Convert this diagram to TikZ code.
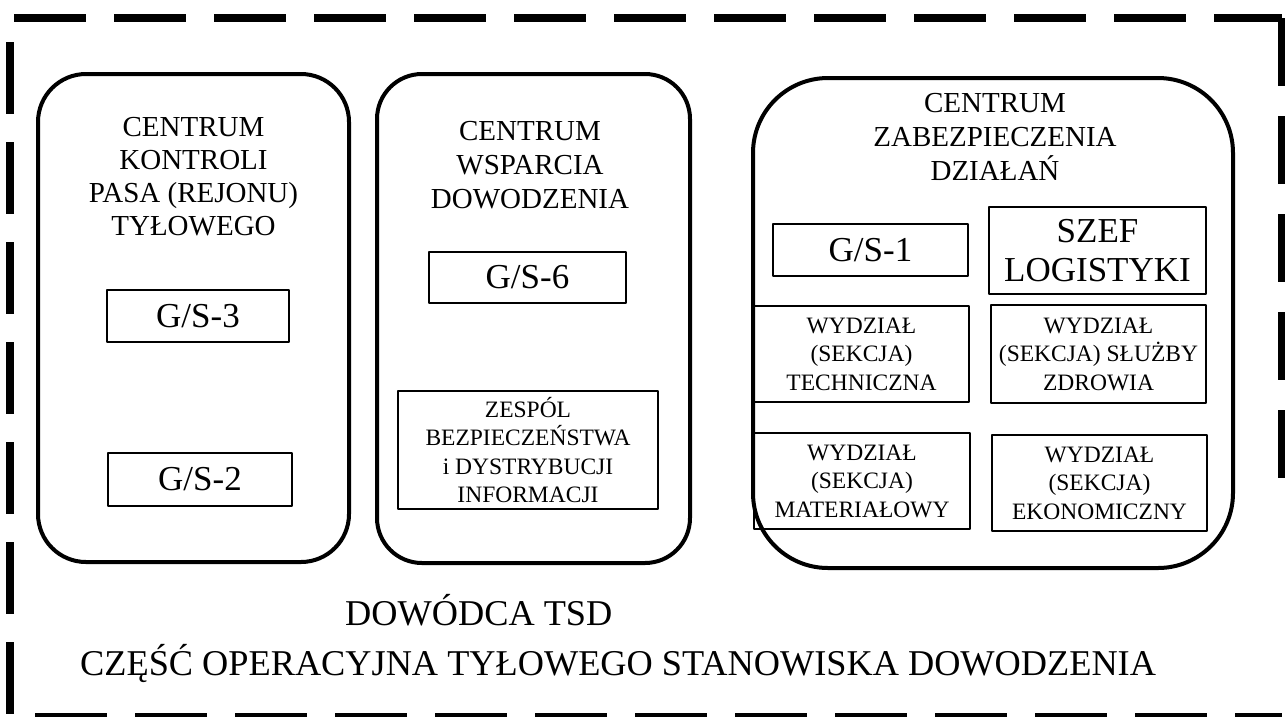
\documentclass[tikz,border=0pt]{standalone}
\usepackage{fontspec}
\setmainfont{Liberation Serif}
\usetikzlibrary{positioning}

\begin{document}
\begin{tikzpicture}[x=1pt, y=-1pt, line join=round,
    centre/.style={draw, line width=4pt, inner sep=0pt},
    header/.style={anchor=north, inner sep=0pt, align=center, font=\fontsize{29}{33}\selectfont},
    cell/.style={draw, line width=1.8pt, inner sep=0pt, align=center},
    gsbox/.style={cell, font=\fontsize{35}{39}\selectfont},
    wbox/.style={cell, font=\fontsize{23.5}{28.5}\selectfont},
    tsdframe/.style={line width=8pt}]
      \useasboundingbox (0,0) rectangle (1285,716);

      % Dashed frame of the command post
      \coordinate (TL) at (10,18);
      \coordinate (TR) at (1282,18);
      \coordinate (BL) at (10,717);
      \coordinate (BR) at (1282,717);
      \draw[tsdframe, dash pattern=on 72pt off 28pt, dash phase=96pt] (TL) -- (TR);
      \draw[tsdframe, dash pattern=on 72pt off 28pt, dash phase=76pt] (TL) -- (BL);
      \draw[tsdframe, dash pattern=on 72pt off 28pt, dash phase=75pt] (BL) -- (BR);
      \draw[tsdframe, dash pattern=on 68pt off 30pt] (TR) -- (1282,505);

      % Centres (rounded boxes)
      \node[centre, rounded corners=48pt, minimum width=311pt, minimum height=488pt] (ckpt) at (193.5,318) {};
      \node[centre, rounded corners=45pt, minimum width=313pt, minimum height=489pt] (cwd) at (533.5,318.5) {};
      \node[centre, rounded corners=75pt, minimum width=480pt, minimum height=490pt] (czd) at (993,323) {};

      \node[header] (ckpt-t) at (193.5,117) {CENTRUM\\KONTROLI\\PASA (REJONU)\\TYŁOWEGO};
      \node[header, font=\fontsize{29}{34}\selectfont] (cwd-t) at (530,121) {CENTRUM\\WSPARCIA\\DOWODZENIA};
      \node[header, font=\fontsize{29}{34}\selectfont] (czd-t) at (995,93) {CENTRUM\\ZABEZPIECZENIA\\DZIAŁAŃ};

      % Cells
      \node[gsbox, minimum width=182pt, minimum height=52pt] (gs3) at (198,316) {G/S-3};
      \node[gsbox, minimum width=184pt, minimum height=53pt] (gs2) at (200,479.5) {G/S-2};
      \node[gsbox, minimum width=197pt, minimum height=51pt] (gs6) at (527.5,277.5) {G/S-6};
      \node[wbox, minimum width=260pt, minimum height=118pt] (zbdi) at (528,450) {ZESPÓL\\BEZPIECZEŃSTWA\\i DYSTRYBUCJI\\INFORMACJI};
      \node[gsbox, minimum width=195pt, minimum height=52pt] (gs1) at (870.5,250) {G/S-1};
      \node[gsbox, minimum width=217pt, minimum height=87pt] (szef) at (1097.5,250.5) {SZEF\\LOGISTYKI};
      \node[wbox, minimum width=215pt, minimum height=96pt] (tech) at (861.5,354) {WYDZIAŁ\\(SEKCJA)\\TECHNICZNA};
      \node[wbox, minimum width=215pt, minimum height=98pt] (zdr) at (1098.5,354) {WYDZIAŁ\\(SEKCJA) SŁUŻBY\\ZDROWIA};
      \node[wbox, minimum width=216pt, minimum height=96pt] (mat) at (862,481) {WYDZIAŁ\\(SEKCJA)\\MATERIAŁOWY};
      \node[wbox, minimum width=215pt, minimum height=96pt] (ekon) at (1099.5,483) {WYDZIAŁ\\(SEKCJA)\\EKONOMICZNY};

      % Bottom captions
      \node[anchor=base west, inner sep=0pt, font=\fontsize{36.3}{40}\selectfont] (dow) at (345,625) {DOWÓDCA TSD};
      \node[anchor=base west, inner sep=0pt, font=\fontsize{36.3}{40}\selectfont] (czesc) at (80,675) {CZĘŚĆ OPERACYJNA TYŁOWEGO STANOWISKA DOWODZENIA};
\end{tikzpicture}
\end{document}
